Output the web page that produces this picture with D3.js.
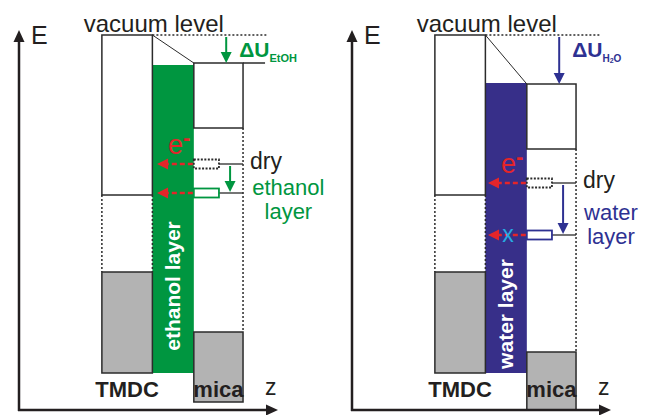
<!DOCTYPE html>
<html>
<head>
<meta charset="utf-8">
<script src="https://cdn.jsdelivr.net/npm/d3@7"></script>
<style>
body { margin: 0; background: #fff; }
svg { display: block; font-family: "Liberation Sans", Arial, sans-serif; }
</style>
</head>
<body>
<script>
var width = 646;
var height = 415;

// one entry per panel: left = ethanol, right = water
var layerNames = ["ethanol layer", "water layer"];
var levelNames = [["ethanol", "layer"], ["water", "layer"]];
var shiftSubs = [["EtOH"], ["H", "2", "O"]];
var layerColors = ["#009640", "#372f89"];
var textColors = ["#009640", "#2e3192"];
var materials = ["TMDC", "mica"];

// energies, arbitrary units (0 = z axis)
var vacuum    = [375, 375];
var tmdcCB    = [215, 215];
var tmdcVBtop = [138, 138];
var tmdcVBbot = [37, 37];
var micaVac   = [347, 326];
var micaCB    = [282, 261];
var micaVBtop = [78, 58];
var micaVBbot = [8, 0];
var layerTop  = [345, 327];
var dryLevel  = [246, 227];
var wetLevel  = [217, 175];

// z positions, arbitrary units
var zTMDC  = [3.2, 5.15];
var zLayer = [5.15, 6.75];
var zMica  = [6.75, 8.65];

var yScale = d3.scaleLinear().domain([0, 380]).range([410, 30]);
var zScale = d3.scaleLinear().domain([0, 10]).range([0, 259]);

var panelX = [19, 352];
var ink = "#2b2b2b";
var red = "#e4252a";

var svg = d3.select("body")
    .append("svg")
    .attr("width", width)
    .attr("height", height);

function downArrow(g, x, y1, y2, color) {
    g.append("line")
        .attr("x1", x).attr("x2", x)
        .attr("y1", y1).attr("y2", y2 - 8)
        .attr("stroke", color)
        .attr("stroke-width", 2);
    g.append("path")
        .attr("d", "M" + (x - 5.5) + "," + (y2 - 11) + "L" + (x + 5.5) + "," + (y2 - 11) + "L" + x + "," + y2 + "Z")
        .attr("fill", color);
}

function leftArrow(g, x1, x2, y) {
    // dashed red arrow, tip at x2
    g.append("line")
        .attr("x1", x1).attr("x2", x2 + 9)
        .attr("y1", y).attr("y2", y)
        .attr("stroke", red)
        .attr("stroke-width", 2.5)
        .attr("stroke-dasharray", "5,3");
    g.append("path")
        .attr("d", "M" + x2 + "," + y + "L" + (x2 + 11) + "," + (y - 5.5) + "L" + (x2 + 11) + "," + (y + 5.5) + "Z")
        .attr("fill", red);
}

[0, 1].forEach(function(i) {
    var g = svg.append("g").attr("transform", "translate(" + panelX[i] + ",0)");

    // liquid layer column
    g.append("rect")
        .attr("x", zScale(zLayer[0]))
        .attr("y", yScale(layerTop[i]))
        .attr("width", zScale(zLayer[1]) - zScale(zLayer[0]))
        .attr("height", yScale(tmdcVBbot[i]) - yScale(layerTop[i]))
        .attr("fill", layerColors[i]);

    // band boxes
    var boxes = [
        [zTMDC, vacuum[i], tmdcCB[i], "#fff"],
        [zTMDC, tmdcVBtop[i], tmdcVBbot[i], "#b3b3b3"],
        [zMica, micaVac[i], micaCB[i], "#fff"],
        [zMica, micaVBtop[i], micaVBbot[i], "#b3b3b3"]
    ];
    g.selectAll("rect.band")
        .data(boxes)
        .enter()
        .append("rect")
        .attr("class", "band")
        .attr("x", function(d) { return zScale(d[0][0]); })
        .attr("y", function(d) { return yScale(d[1]); })
        .attr("width", function(d) { return zScale(d[0][1]) - zScale(d[0][0]); })
        .attr("height", function(d) { return yScale(d[2]) - yScale(d[1]); })
        .attr("fill", function(d) { return d[3]; })
        .attr("stroke", ink)
        .attr("stroke-width", 1.5);

    // dotted gap edges
    var gaps = [
        [zTMDC[0], tmdcCB[i], tmdcVBtop[i]],
        [zTMDC[1], tmdcCB[i], tmdcVBtop[i]],
        [zMica[1], micaCB[i], micaVBtop[i]]
    ];
    g.selectAll("line.gap")
        .data(gaps)
        .enter()
        .append("line")
        .attr("class", "gap")
        .attr("x1", function(d) { return zScale(d[0]); })
        .attr("x2", function(d) { return zScale(d[0]); })
        .attr("y1", function(d) { return yScale(d[1]); })
        .attr("y2", function(d) { return yScale(d[2]); })
        .attr("stroke", ink)
        .attr("stroke-width", 1.5)
        .attr("stroke-dasharray", "2,2");

    // vacuum level
    g.append("line")
        .attr("x1", zScale(zTMDC[1])).attr("x2", zScale(9.55))
        .attr("y1", yScale(vacuum[i])).attr("y2", yScale(vacuum[i]))
        .attr("stroke", ink)
        .attr("stroke-width", 1.3)
        .attr("stroke-dasharray", "2,2");
    g.append("line")
        .attr("x1", zScale(zTMDC[1])).attr("x2", zScale(zMica[0]))
        .attr("y1", yScale(vacuum[i])).attr("y2", yScale(micaVac[i]))
        .attr("stroke", ink)
        .attr("stroke-width", 1);
    if (i === 0) {
        g.append("line")
            .attr("x1", zScale(zMica[1])).attr("x2", zScale(9.5))
            .attr("y1", yScale(micaVac[i])).attr("y2", yScale(micaVac[i]))
            .attr("stroke", ink)
            .attr("stroke-width", 1.5);
    }
    g.append("text")
        .attr("x", zScale(2.5))
        .attr("y", yScale(vacuum[i]) - 3)
        .attr("font-size", 24)
        .attr("fill", "#231f20")
        .text("vacuum level");

    // shift of the vacuum level
    downArrow(g, zScale(8.0), yScale(vacuum[i]) + 2, yScale(micaVac[i]), textColors[i]);
    var du = g.append("text")
        .attr("x", zScale(8.5))
        .attr("y", yScale(vacuum[i]) + 22)
        .attr("font-size", 21)
        .attr("font-weight", "bold")
        .attr("fill", textColors[i])
        .text("\u0394U");
    var sub = shiftSubs[i];
    if (sub.length === 1) {
        du.append("tspan").attr("font-size", 11).attr("dy", 5).text(sub[0]);
    } else {
        du.append("tspan").attr("font-size", 10).attr("dy", 5).text(sub[0]);
        du.append("tspan").attr("font-size", 7).attr("dy", 1).text(sub[1]);
        du.append("tspan").attr("font-size", 10).attr("dy", -1).text(sub[2]);
    }

    // defect levels: dry and in the liquid layer
    var zBoxEnd = 7.72;
    var levels = [[dryLevel[i], "dry"], [wetLevel[i], "wet"]];
    levels.forEach(function(d) {
        var yy = yScale(d[0]);
        g.append("line")
            .attr("x1", zScale(zBoxEnd)).attr("x2", zScale(zMica[1]))
            .attr("y1", yy).attr("y2", yy)
            .attr("stroke", ink)
            .attr("stroke-width", 1.3);
        g.append("rect")
            .attr("x", zScale(zMica[0]))
            .attr("y", yy - 4.5)
            .attr("width", zScale(zBoxEnd) - zScale(zMica[0]))
            .attr("height", 9)
            .attr("fill", "#fff")
            .attr("stroke", d[1] === "dry" ? ink : textColors[i])
            .attr("stroke-width", 1.8)
            .attr("stroke-dasharray", d[1] === "dry" ? "2,1.5" : null);
        leftArrow(g, zScale(zMica[0]) - 1, zScale(i === 0 ? 5.33 : 5.25), yy);
    });
    downArrow(g, zScale(8.15), yScale(dryLevel[i]) + 2, yScale(wetLevel[i]) - 1, textColors[i]);

    if (i === 1) {
        g.append("text")
            .attr("x", zScale(6.02))
            .attr("y", yScale(wetLevel[i]) + 7)
            .attr("text-anchor", "middle")
            .attr("font-size", 23)
            .attr("fill", "#27aae1")
            .text("x");
    }

    var el = g.append("text")
        .attr("x", zScale(5.75))
        .attr("y", yScale(dryLevel[i]) - 10)
        .attr("font-size", 27)
        .attr("fill", red)
        .text("e");
    el.append("tspan").attr("font-size", 22).attr("font-weight", "bold").attr("dy", -9).text("-");

    g.append("text")
        .attr("x", zScale(8.92))
        .attr("y", yScale(dryLevel[i]) + 5)
        .attr("font-size", 23)
        .attr("fill", "#231f20")
        .text("dry");

    var labelZ = [10.4, 10.0];
    var labelDy = [2, -15];
    g.selectAll("text.lvl")
        .data(levelNames[i])
        .enter()
        .append("text")
        .attr("class", "lvl")
        .attr("x", zScale(labelZ[i]))
        .attr("y", function(d, k) { return yScale(wetLevel[i]) + labelDy[i] + k * 24; })
        .attr("text-anchor", "middle")
        .attr("font-size", 22)
        .attr("fill", textColors[i])
        .text(function(d) { return d; });

    // layer name inside the column
    var nameV = [124, 96];
    g.append("text")
        .attr("transform", "translate(" + zScale((zLayer[0] + zLayer[1]) / 2) + "," + yScale(nameV[i]) + ") rotate(-90)")
        .attr("text-anchor", "middle")
        .attr("dy", "0.35em")
        .attr("font-size", 21)
        .attr("font-weight", "bold")
        .attr("fill", "#fff")
        .text(layerNames[i]);

    // material names
    g.selectAll("text.mat")
        .data(materials)
        .enter()
        .append("text")
        .attr("class", "mat")
        .attr("x", function(d, k) { var zz = k === 0 ? zTMDC : zMica; return zScale((zz[0] + zz[1]) / 2); })
        .attr("y", 397)
        .attr("text-anchor", "middle")
        .attr("font-size", 22)
        .attr("font-weight", "bold")
        .attr("fill", "#231f20")
        .text(function(d) { return d; });

    // axes
    var y0 = yScale(0);
    g.append("line")
        .attr("x1", 0).attr("x2", 0)
        .attr("y1", y0 + 1).attr("y2", yScale(380) + 10)
        .attr("stroke", "#231f20").attr("stroke-width", 2.5);
    g.append("path")
        .attr("d", "M-5.5," + (yScale(380) + 12) + "L5.5," + (yScale(380) + 12) + "L0," + yScale(380) + "Z")
        .attr("fill", "#231f20");
    g.append("line")
        .attr("x1", -1).attr("x2", zScale(10) - 10)
        .attr("y1", y0).attr("y2", y0)
        .attr("stroke", "#231f20").attr("stroke-width", 2.5);
    g.append("path")
        .attr("d", "M" + (zScale(10) - 12) + "," + (y0 - 5.5) + "L" + (zScale(10) - 12) + "," + (y0 + 5.5) + "L" + zScale(10) + "," + y0 + "Z")
        .attr("fill", "#231f20");
    g.append("text")
        .attr("x", 12).attr("y", 44)
        .attr("font-size", 25)
        .attr("fill", "#231f20")
        .text("E");
    g.append("text")
        .attr("x", zScale(9.5)).attr("y", 395)
        .attr("font-size", 23)
        .attr("fill", "#231f20")
        .text("z");
});
</script>
</body>
</html>
